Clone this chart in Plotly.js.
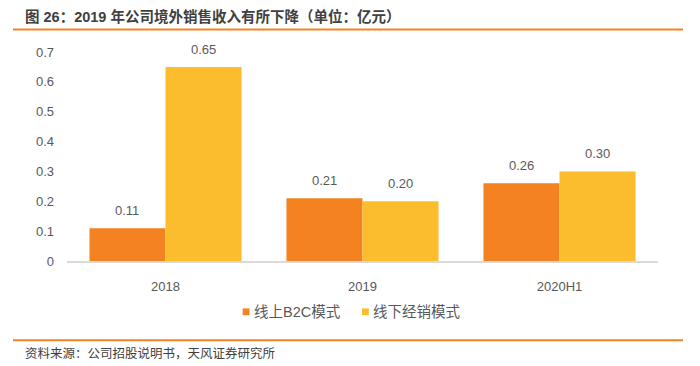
<!DOCTYPE html>
<html>
<head>
<meta charset="utf-8">
<script src="https://cdn.plot.ly/plotly-3.0.1.min.js"></script>
<style>html,body{margin:0;padding:0;background:#fff;}#chart{width:700px;height:366px;}</style>
</head>
<body>
<div id="chart"></div>
<script>
const categories = ["2018", "2019", "2020H1"];
const onlineB2C = [0.11, 0.21, 0.26];
const offlineDist = [0.65, 0.20, 0.30];
const seriesNames = ["线上B2C模式", "线下经销模式"];
const yTickVals = [0, 0.1, 0.2, 0.3, 0.4, 0.5, 0.6, 0.7];
const yTickText = ["0", "0.1", "0.2", "0.3", "0.4", "0.5", "0.6", "0.7"];

const W = 700, H = 366;
const L = 67, R = 658, T = 52.4, B = 261;
const px = x => (x - L) / (R - L);
const py = y => (B - y) / (B - T);

const C1 = "#F58220", C2 = "#FBBD2D";
const FONT = "Liberation Sans, Arial, Noto Sans CJK SC, sans-serif";
const TXT = "#595959";

const traces = [
  {type: "bar", name: seriesNames[0], x: categories, y: onlineB2C, marker: {color: C1}, showlegend: false, hoverinfo: "skip"},
  {type: "bar", name: seriesNames[1], x: categories, y: offlineDist, marker: {color: C2}, showlegend: false, hoverinfo: "skip"}
];

const annotations = [];
const barHalf = 38.2;
[onlineB2C, offlineDist].forEach((arr, s) => {
  arr.forEach((v, i) => {
    annotations.push({
      x: i, y: v, xref: "x", yref: "y",
      text: v.toFixed(2), showarrow: false,
      xshift: s === 0 ? -barHalf : barHalf, yshift: 17.5,
      yanchor: "middle", xanchor: "center",
      font: {family: FONT, size: 13, color: TXT}
    });
  });
});
annotations.push({x: px(252), y: py(311.7), xref: "paper", yref: "paper", text: seriesNames[0], showarrow: false, xanchor: "left", yanchor: "middle", font: {family: FONT, size: 14.5, color: TXT}});
annotations.push({x: px(371), y: py(311.7), xref: "paper", yref: "paper", text: seriesNames[1], showarrow: false, xanchor: "left", yanchor: "middle", font: {family: FONT, size: 14.5, color: TXT}});
annotations.push({x: px(23), y: py(353), xref: "paper", yref: "paper", text: "资料来源：公司招股说明书，天风证券研究所", showarrow: false, xanchor: "left", yanchor: "middle", font: {family: FONT, size: 12.5, color: "#404040"}});

const shapes = [
  {type: "line", xref: "paper", yref: "paper", x0: px(13), x1: px(683), y0: py(30), y1: py(30), line: {color: "#F58220", width: 2}},
  {type: "line", xref: "paper", yref: "paper", x0: px(13), x1: px(683), y0: py(340), y1: py(340), line: {color: "#F58220", width: 2}},
  {type: "rect", xref: "paper", yref: "paper", x0: px(242.7), x1: px(249.5), y0: py(308.3), y1: py(315.1), fillcolor: C1, line: {width: 0}},
  {type: "rect", xref: "paper", yref: "paper", x0: px(362), x1: px(368.8), y0: py(308.3), y1: py(315.1), fillcolor: C2, line: {width: 0}}
];

const layout = {
  width: W, height: H,
  margin: {l: L, r: W - R, t: T, b: H - B, pad: 0},
  paper_bgcolor: "#fff", plot_bgcolor: "#fff",
  barmode: "group", bargap: 0.228, bargroupgap: 0,
  title: {
    text: "<b>图 26：2019 年公司境外销售收入有所下降（单位：亿元）</b>",
    x: 25 / W, xref: "container", xanchor: "left",
    y: 1 - 16.5 / H, yref: "container", yanchor: "middle",
    font: {family: FONT, size: 14.5, color: "#404040"}
  },
  xaxis: {
    type: "category", range: [-0.5, 2.5], autorange: false,
    showgrid: false, zeroline: false,
    showline: true, linecolor: "#D9D9D9", linewidth: 1.5,
    ticks: "", ticklabelstandoff: 13,
    tickfont: {family: FONT, size: 13, color: TXT}
  },
  yaxis: {
    range: [0, 0.7], autorange: false, showgrid: false, zeroline: false, showline: false,
    tickmode: "array", tickvals: yTickVals, ticktext: yTickText,
    ticks: "", ticklabelstandoff: 12,
    tickfont: {family: FONT, size: 13, color: TXT}
  },
  showlegend: false,
  annotations: annotations,
  shapes: shapes
};

Plotly.newPlot("chart", traces, layout, {staticPlot: true, displayModeBar: false});
</script>
</body>
</html>
